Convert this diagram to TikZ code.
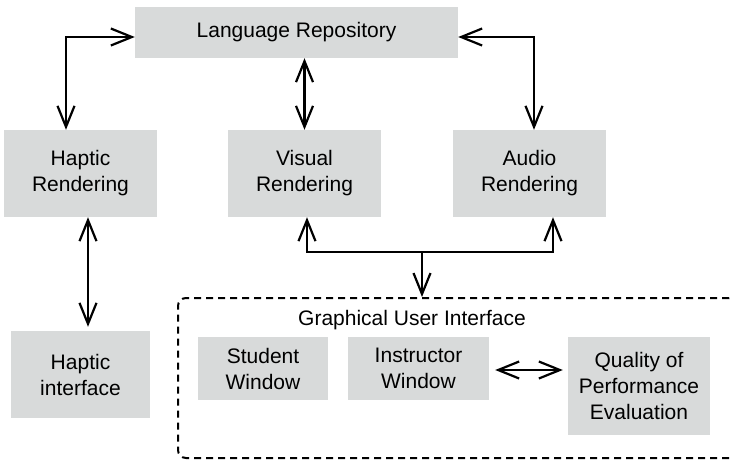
\documentclass[tikz,border=0pt]{standalone}
\usepackage{fontspec}
\setmainfont{Liberation Sans}
\usetikzlibrary{arrows.meta, positioning}

\definecolor{boxgray}{RGB}{216,218,218}

\tikzset{
    block/.style={fill=boxgray, align=center, inner sep=0pt},
    link/.style={line width=2.2pt, {Straight Barb[length=21pt,width=17pt]}-{Straight Barb[length=21pt,width=17pt]}},
    linkto/.style={line width=2.2pt, -{Straight Barb[length=21pt,width=17pt]}}
}

\begin{document}
\begin{tikzpicture}[x=1pt, y=-1pt, every node/.style={font=\fontsize{21}{26}\selectfont}]
    \useasboundingbox (0,0) rectangle (730,459);

    % boxes
    \node[block, minimum width=323pt, minimum height=51pt] (lang) at (296.5,32.5) {Language Repository};
    \node[block, minimum width=153pt, minimum height=87pt] (haptic) at (80.5,173.5) {Haptic\\Rendering};
    \node[block, minimum width=153pt, minimum height=87pt] (visual) at (304.5,173.5) {Visual\\Rendering};
    \node[block, minimum width=153pt, minimum height=87pt] (audio) at (529.5,173.5) {Audio\\Rendering};
    \node[block, minimum width=139pt, minimum height=87pt] (hint) at (80.5,374.5) {Haptic\\interface};

    % graphical user interface (runs off the right edge)
    \node[draw, line width=2pt, dash pattern=on 7pt off 5pt, rounded corners=8pt,
          minimum width=559pt, minimum height=160pt, inner sep=0pt] (gui) at (457.5,378) {};
    \node at (412,320) {Graphical User Interface};
    \node[block, minimum width=130pt, minimum height=63pt] (student) at (263,368.5) {Student\\Window};
    \node[block, minimum width=141pt, minimum height=63pt] (instr) at (418.5,368.5) {Instructor\\Window};
    \node[block, minimum width=142pt, minimum height=98pt] (quality) at (639,386) {Quality of\\Performance\\Evaluation};

    \coordinate (lh) at (66,37);
    \coordinate (ra) at (534,37);
    \coordinate (bus) at (422,252);
    \coordinate (busr) at (553,252);

    % connectors
    \draw[link] (lang.west |- lh) -- (lh) -- (haptic.north -| lh);
    \draw[link] (lang.east |- ra) -- (ra) -- (audio.north -| ra);
    \draw[link] (lang.south -| visual.north) -- (visual.north);
    \draw[link, shorten >=4pt] ([xshift=7.5pt]haptic.south) -- ([xshift=7.5pt]hint.north);
    \draw[link] ([xshift=2.5pt]visual.south) |- (busr) -- (audio.south -| busr);
    \draw[linkto] (bus) -- (bus |- gui.north);
    \draw[link, shorten <=6pt, shorten >=5pt] (instr.east |- 0,370) -- (quality.west |- 0,370);
\end{tikzpicture}
\end{document}
